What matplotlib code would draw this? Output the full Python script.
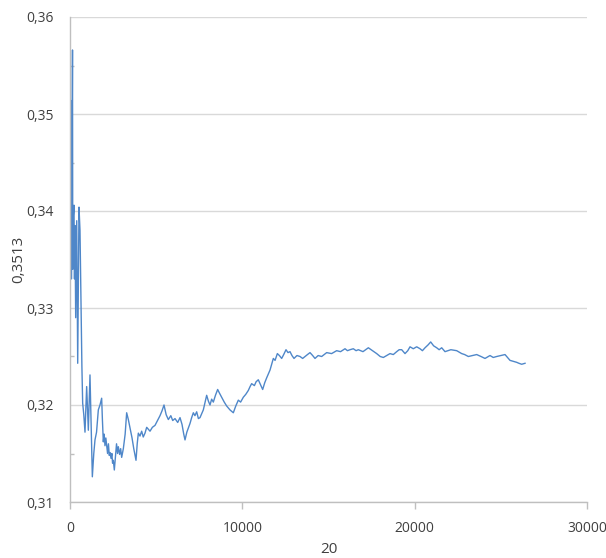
import matplotlib
matplotlib.use("Agg")
import matplotlib.pyplot as plt
from matplotlib.ticker import FuncFormatter, MultipleLocator

plt.rcParams['font.family'] = ['Open Sans', 'DejaVu Sans']

# Running estimate over iterations
iters = [
    0, 40, 90, 145, 160, 190, 232, 260, 290, 330, 390, 447, 522, 580, 690,
    735, 800, 870, 967, 1064, 1160, 1296, 1380, 1450, 1540, 1644, 1740,
    1837, 1880, 1934, 1980, 2030, 2080, 2127, 2180, 2230, 2280, 2321, 2380,
    2430, 2470, 2514, 2572, 2640, 2700, 2760, 2804, 2880, 2940, 2998, 3095,
    3200, 3288, 3385, 3500, 3600, 3700, 3830, 3900, 3965, 4060, 4159, 4250,
    4352, 4450, 4546, 4643, 4780, 4933, 5080, 5223, 5340, 5455, 5580, 5707,
    5850, 5960, 6093, 6250, 6383, 6500, 6600, 6674, 6780, 6880, 6964, 7060,
    7157, 7250, 7350, 7450, 7544, 7640, 7737, 7830, 7930, 8030, 8124, 8220,
    8317, 8440, 8568, 8680, 8800, 8950, 9090, 9280, 9477, 9620, 9767, 9900,
    10057, 10200, 10347, 10450, 10540, 10700, 10800, 10927, 11050, 11180,
    11300, 11412, 11606, 11700, 11799, 11900, 12032, 12150, 12283, 12400,
    12534, 12650, 12767, 12880, 12999, 13170, 13347, 13500, 13637, 13780,
    13927, 14080, 14217, 14400, 14604, 14750, 14894, 15180, 15474, 15700,
    15958, 16100, 16248, 16441, 16600, 16731, 17000, 17312, 17550, 17795,
    18000, 18183, 18380, 18570, 18760, 18957, 19100, 19247, 19440, 19600,
    19730, 19920, 20117, 20311, 20450, 20601, 20780, 20930, 21100, 21278,
    21420, 21568, 21761, 22100, 22438, 22728, 22900, 23115, 23350, 23599,
    23850, 24082, 24372, 24560, 24760, 25000, 25243, 25533, 25720, 25920,
    26050, 26210, 26404,
]
values = [
    0.3208, 0.3514, 0.3330, 0.3566, 0.3340, 0.3395, 0.3406, 0.3330, 0.3385,
    0.3290, 0.3390, 0.3243, 0.3404, 0.3380, 0.3240, 0.3202, 0.3190, 0.3172,
    0.3219, 0.3174, 0.3231, 0.3126, 0.3150, 0.3164, 0.3172, 0.3195, 0.3200,
    0.3207, 0.3185, 0.3162, 0.3170, 0.3158, 0.3166, 0.3158, 0.3150, 0.3160,
    0.3148, 0.3151, 0.3145, 0.3150, 0.3140, 0.3143, 0.3133, 0.3148, 0.3160,
    0.3150, 0.3157, 0.3149, 0.3155, 0.3146, 0.3155, 0.3170, 0.3192, 0.3185,
    0.3175, 0.3166, 0.3155, 0.3143, 0.3160, 0.3171, 0.3168, 0.3173, 0.3167,
    0.3171, 0.3177, 0.3175, 0.3173, 0.3177, 0.3179, 0.3184, 0.3189, 0.3194,
    0.3200, 0.3190, 0.3185, 0.3189, 0.3184, 0.3186, 0.3182, 0.3187, 0.3180,
    0.3170, 0.3164, 0.3172, 0.3177, 0.3181, 0.3187, 0.3192, 0.3189, 0.3193,
    0.3186, 0.3187, 0.3191, 0.3195, 0.3202, 0.3210, 0.3204, 0.3200, 0.3206,
    0.3203, 0.3210, 0.3216, 0.3212, 0.3208, 0.3203, 0.3199, 0.3195, 0.3192,
    0.3199, 0.3205, 0.3203, 0.3208, 0.3211, 0.3215, 0.3219, 0.3222, 0.3220,
    0.3224, 0.3226, 0.3221, 0.3216, 0.3223, 0.3228, 0.3236, 0.3242, 0.3248,
    0.3246, 0.3253, 0.3251, 0.3248, 0.3252, 0.3257, 0.3254, 0.3255, 0.3251,
    0.3248, 0.3251, 0.3250, 0.3248, 0.3250, 0.3252, 0.3254, 0.3251, 0.3248,
    0.3251, 0.3250, 0.3252, 0.3254, 0.3253, 0.3256, 0.3255, 0.3258, 0.3256,
    0.3257, 0.3258, 0.3256, 0.3257, 0.3255, 0.3259, 0.3256, 0.3253, 0.3250,
    0.3249, 0.3251, 0.3253, 0.3252, 0.3255, 0.3257, 0.3257, 0.3253, 0.3256,
    0.3260, 0.3258, 0.3260, 0.3258, 0.3256, 0.3259, 0.3262, 0.3265, 0.3261,
    0.3259, 0.3257, 0.3259, 0.3255, 0.3257, 0.3256, 0.3253, 0.3252, 0.3250,
    0.3251, 0.3252, 0.3250, 0.3248, 0.3251, 0.3249, 0.3250, 0.3251, 0.3252,
    0.3246, 0.3245, 0.3244, 0.3243, 0.3242, 0.3243,
]

x_label = "20"
y_label = "0,3513"

text_color = "#404040"
axis_color = "#bfbfbf"
grid_color = "#d9d9d9"
line_color = "#4f87c9"

fig = plt.figure(figsize=(6.06, 5.58), dpi=100)
ax = fig.add_axes([70 / 606, 1 - 502 / 558, 517 / 606, 485 / 558])

ax.plot(iters, values, color=line_color, linewidth=1.0, solid_joinstyle="round")

ax.set_xlim(0, 30000)
ax.set_ylim(0.31, 0.36)

ax.xaxis.set_major_locator(MultipleLocator(10000))
ax.yaxis.set_major_locator(MultipleLocator(0.01))
ax.yaxis.set_minor_locator(MultipleLocator(0.005))

ax.xaxis.set_major_formatter(FuncFormatter(lambda v, p: f"{v:.0f}"))
ax.yaxis.set_major_formatter(FuncFormatter(lambda v, p: f"{v:.2f}".replace(".", ",")))

ax.grid(axis="y", which="major", color=grid_color, linewidth=1.0)
ax.set_axisbelow(True)

for side in ("top", "right"):
    ax.spines[side].set_visible(False)
for side in ("left", "bottom"):
    ax.spines[side].set_color(axis_color)
    ax.spines[side].set_linewidth(1.0)

ax.tick_params(axis="x", which="major", direction="out", length=5, width=1.0,
               color=axis_color, labelsize=10, labelcolor=text_color, pad=9)
ax.tick_params(axis="y", which="major", length=0, labelsize=10,
               labelcolor=text_color, pad=12)
ax.tick_params(axis="y", which="minor", direction="in", length=3, width=1.0,
               color=axis_color)

ax.set_xlabel(x_label, fontsize=11, color=text_color, labelpad=4)
ax.set_ylabel(y_label, fontsize=11, color=text_color, labelpad=0)

fig.savefig("out.png", dpi=100)
